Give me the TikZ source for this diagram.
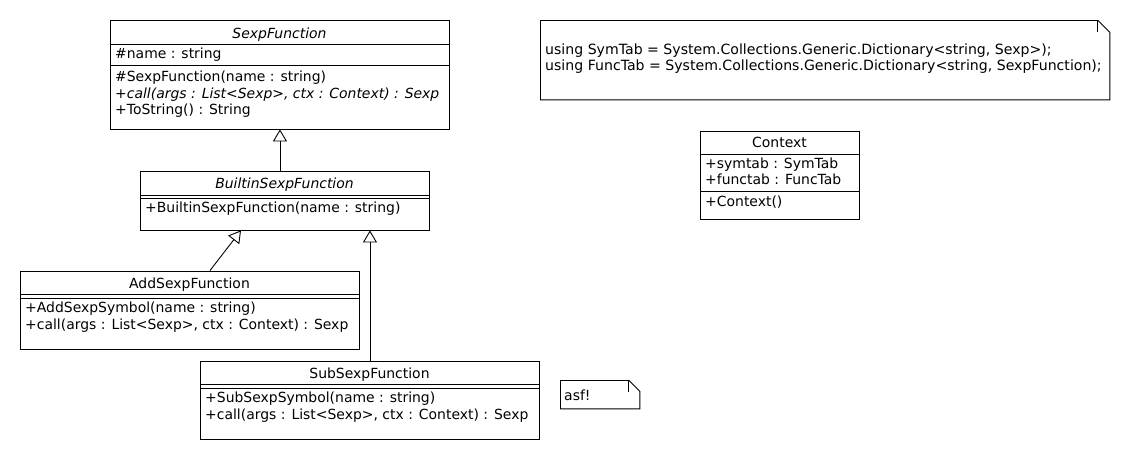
\documentclass[tikz,border=0pt]{standalone}
\usepackage{fontspec}
\setmainfont{DejaVu Sans}
\usetikzlibrary{arrows.meta}
\begin{document}
\begin{tikzpicture}[x=1pt,y=-1pt,
  every node/.style={font=\fontsize{13.95}{16}\selectfont},
  classbox/.style={draw, line width=0.9pt, rectangle, inner sep=0pt, anchor=north west},
  sepline/.style={line width=0.9pt},
  txt/.style={anchor=base west, inner sep=0pt, yshift=-0.8pt},
  ttl/.style={anchor=base, inner sep=0pt, yshift=-0.8pt},
  notetxt/.style={anchor=base west, inner sep=0pt, yshift=-0.8pt, font=\fontsize{14.1}{16}\selectfont},
  gen/.style={line width=0.9pt, -{Triangle[open, length=12pt, width=14pt]}},
  noteline/.style={line width=0.9pt}
]
\useasboundingbox (0,0) rectangle (1130,460);

% SexpFunction
\node[classbox, minimum width=339pt, minimum height=108pt] (sexp) at (110,20.5) {};
\node[ttl] (sexpT) at (279.5,38) {\itshape SexpFunction};
\draw[sepline] ([yshift=-24pt]sexp.north west) -- ([yshift=-24pt]sexp.north east);
\node[txt] (sexpA) at (115,57.5) {\#name : string};
\draw[sepline] ([yshift=-44.5pt]sexp.north west) -- ([yshift=-44.5pt]sexp.north east);
\node[txt] (sexpM1) at (115,81) {\#SexpFunction(name : string)};
\node[txt] (sexpM2) at (115,97.5) {\itshape +call(args : List<Sexp>, ctx : Context) : Sexp};
\node[txt] (sexpM3) at (115,114) {+ToString() : String};

% BuiltinSexpFunction
\node[classbox, minimum width=289pt, minimum height=59pt] (builtin) at (140,170.5) {};
\node[ttl] (builtinT) at (284.5,188) {\itshape BuiltinSexpFunction};
\draw[sepline] ([yshift=-24.5pt]builtin.north west) -- ([yshift=-24.5pt]builtin.north east);
\draw[sepline] ([yshift=-28pt]builtin.north west) -- ([yshift=-28pt]builtin.north east);
\node[txt] (builtinM1) at (145,212) {+BuiltinSexpFunction(name : string)};

% AddSexpFunction
\node[classbox, minimum width=339pt, minimum height=78pt] (add) at (20,270.5) {};
\node[ttl] (addT) at (189.5,288) {AddSexpFunction};
\draw[sepline] ([yshift=-24pt]add.north west) -- ([yshift=-24pt]add.north east);
\draw[sepline] ([yshift=-27.5pt]add.north west) -- ([yshift=-27.5pt]add.north east);
\node[txt] (addM1) at (25,312) {+AddSexpSymbol(name : string)};
\node[txt] (addM2) at (25,328.5) {+call(args : List<Sexp>, ctx : Context) : Sexp};

% SubSexpFunction
\node[classbox, minimum width=339pt, minimum height=78pt] (sub) at (200,360.5) {};
\node[ttl] (subT) at (369.5,378) {SubSexpFunction};
\draw[sepline] ([yshift=-24pt]sub.north west) -- ([yshift=-24pt]sub.north east);
\draw[sepline] ([yshift=-27.5pt]sub.north west) -- ([yshift=-27.5pt]sub.north east);
\node[txt] (subM1) at (205,402) {+SubSexpSymbol(name : string)};
\node[txt] (subM2) at (205,418.5) {+call(args : List<Sexp>, ctx : Context) : Sexp};

% Context
\node[classbox, minimum width=159pt, minimum height=88pt] (ctx) at (700,130.5) {};
\node[ttl] (ctxT) at (779.5,147) {Context};
\draw[sepline] ([yshift=-23.5pt]ctx.north west) -- ([yshift=-23.5pt]ctx.north east);
\node[txt] (ctxA1) at (705,167.5) {+symtab : SymTab};
\node[txt] (ctxA2) at (705,184) {+functab : FuncTab};
\draw[sepline] ([yshift=-60.5pt]ctx.north west) -- ([yshift=-60.5pt]ctx.north east);
\node[txt] (ctxM1) at (705,205.5) {+Context()};

% Generalizations
\draw[gen] (builtin.north -| sexp.south) -- (sexp.south);
\coordinate (addTop) at ([xshift=190pt]add.north west);
\coordinate (builtinHit) at ([xshift=101pt]builtin.south west);
\draw[gen] (addTop) -- (builtinHit);
\draw[gen] (sub.north) -- (sub.north |- builtin.south);

% Big note
\coordinate (n1nw) at (540.5,20.5);
\node[inner sep=0pt, minimum width=569pt, minimum height=79pt, anchor=north west] (note1) at (n1nw) {};
\draw[noteline] (note1.north west) -- ([xshift=-12pt]note1.north east) -- ([yshift=-12pt]note1.north east) -- (note1.south east) -- (note1.south west) -- cycle;
\draw[noteline] ([xshift=-12pt]note1.north east) -- ([xshift=-12pt,yshift=-12pt]note1.north east);
\node[notetxt] (note1L1) at (545,53.5) {using SymTab = System.Collections.Generic.Dictionary<string, Sexp>);};
\node[notetxt] (note1L2) at (545,69.5) {using FuncTab = System.Collections.Generic.Dictionary<string, SexpFunction);};

% asf note
\node[inner sep=0pt, minimum width=79pt, minimum height=28pt, anchor=north west] (note2) at (560.5,380.5) {};
\draw[noteline] (note2.north west) -- ([xshift=-11pt]note2.north east) -- ([yshift=-11pt]note2.north east) -- (note2.south east) -- (note2.south west) -- cycle;
\draw[noteline] ([xshift=-11pt]note2.north east) -- ([xshift=-11pt,yshift=-11pt]note2.north east);
\node[txt] (note2L1) at (564,399.5) {asf!};
\end{tikzpicture}
\end{document}
